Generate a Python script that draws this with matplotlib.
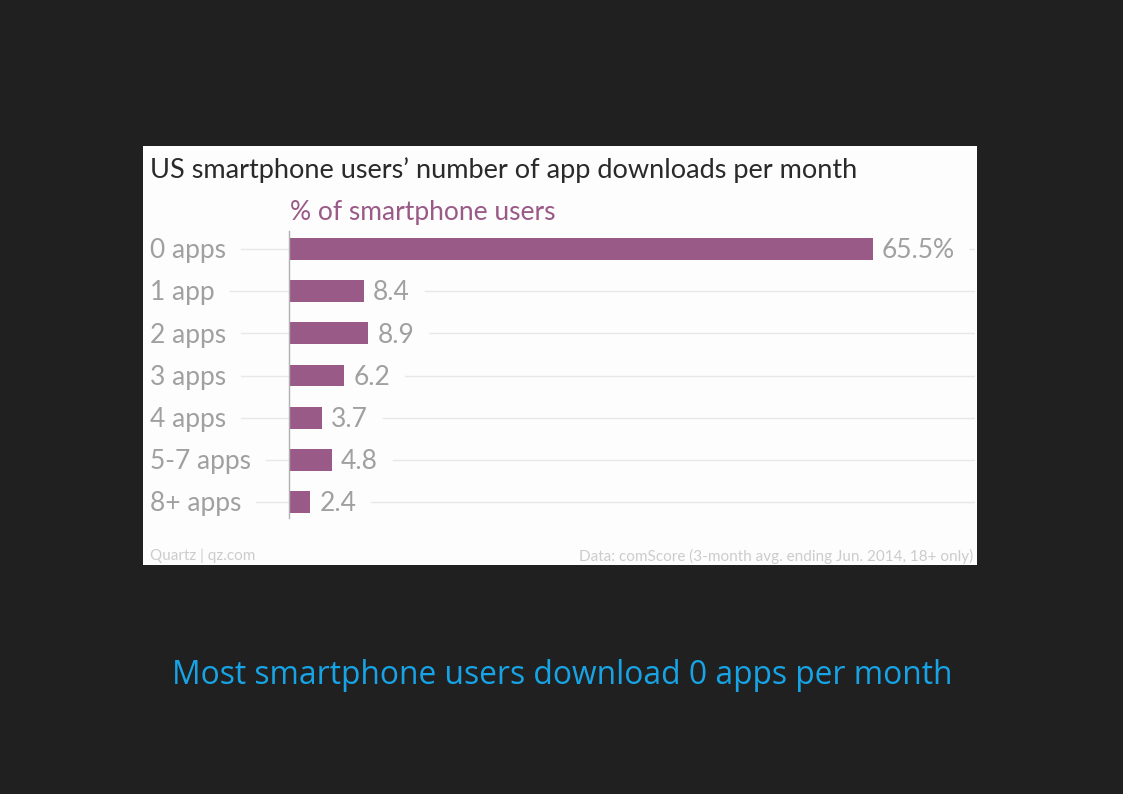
import matplotlib
matplotlib.use("Agg")
import matplotlib.pyplot as plt
from matplotlib.patches import Rectangle

categories = ["0 apps", "1 app", "2 apps", "3 apps", "4 apps", "5-7 apps", "8+ apps"]
values = [65.5, 8.4, 8.9, 6.2, 3.7, 4.8, 2.4]
value_labels = ["65.5%", "8.4", "8.9", "6.2", "3.7", "4.8", "2.4"]

title = "US smartphone users\u2019 number of app downloads per month"
subtitle = "% of smartphone users"
source_left = "Quartz | qz.com"
source_right = "Data: comScore (3-month avg. ending Jun. 2014, 18+ only)"
caption = "Most smartphone users download 0 apps per month"

W, H = 1123, 794
BG = "#202020"
PANEL = "#fdfdfd"
BAR = "#9a5a87"
GRAY = "#a0a0a0"
FONT = ["Lato", "DejaVu Sans"]

fig = plt.figure(figsize=(W / 100, H / 100), dpi=100, facecolor=BG)

def fx(px):
    return px / W

def fy(py):
    return 1 - py / H

# white panel
fig.patches.append(Rectangle((fx(143), fy(565)), fx(977) - fx(143), fy(146) - fy(565),
                             transform=fig.transFigure, facecolor=PANEL, edgecolor="none", zorder=-5))

# axes
ax_left, ax_right = 143, 975
ax_top, ax_bot = 228, 523
ax = fig.add_axes([fx(ax_left), fy(ax_bot), fx(ax_right) - fx(ax_left), fy(ax_top) - fy(ax_bot)])
ax.set_zorder(2)
ax.patch.set_visible(False)
ppu = (873 - 289) / 65.5
xmin = -(289 - ax_left) / ppu
xmax = (ax_right - 289) / ppu
ax.set_xlim(xmin, xmax)
ax.set_ylim(len(categories) - 0.5, -0.5)
for s in ax.spines.values():
    s.set_visible(False)
ax.set_xticks([])
ax.set_yticks([])

ypos = list(range(len(categories)))
ax.barh(ypos, values, height=0.52, color=BAR, zorder=3)
ax.plot([0, 0], [-0.42, len(categories) - 0.62], color="#b0b0b0", lw=1, zorder=4)

labels = []
lab_x = (150 - ax_left) / (ax_right - ax_left)
for y, c in zip(ypos, categories):
    t = ax.annotate(c, (lab_x, y), xycoords=ax.get_yaxis_transform(), xytext=(0, -1.2),
                    textcoords="offset points", ha="left", va="center",
                    fontsize=19, color=GRAY, family=FONT)
    labels.append(t)

vlabels = []
for y, v, lab in zip(ypos, values, value_labels):
    t = ax.annotate(lab, (v, y), xytext=(6.5, -1.2), textcoords="offset points", ha="left", va="center",
                    fontsize=19, color=GRAY, family=FONT, zorder=5)
    vlabels.append(t)

fig.canvas.draw()
r = fig.canvas.get_renderer()
inv = ax.transData.inverted()
for y, t, vt in zip(ypos, labels, vlabels):
    bb = t.get_window_extent(r)
    xstart = inv.transform((bb.x1 + 15, 0))[0]
    ax.plot([xstart, 0], [y, y], color="#e8e8e8", lw=1, zorder=1)
    vb = vt.get_window_extent(r)
    xs2 = inv.transform((vb.x1 + 15, 0))[0]
    if xs2 < xmax:
        ax.plot([xs2, xmax], [y, y], color="#e8e8e8", lw=1, zorder=1)

fig.text(fx(150), fy(170.5), title, ha="left", va="center", fontsize=19.5, color="#2a2a2a", family=FONT)
fig.text(fx(290), fy(212.5), subtitle, ha="left", va="center", fontsize=19, color="#9a5a87", family=FONT)
fig.text(fx(150), fy(556), source_left, ha="left", va="center", fontsize=11, color="#cccccc", family=FONT)
fig.text(fx(973), fy(556), source_right, ha="right", va="center", fontsize=11, color="#cccccc", family=FONT)
fig.text(fx(562), fy(675), caption, ha="center", va="center", fontsize=22.9, color="#17a4e6",
         family=["Open Sans", "DejaVu Sans"])

fig.savefig("out.png", dpi=100, facecolor=BG)
